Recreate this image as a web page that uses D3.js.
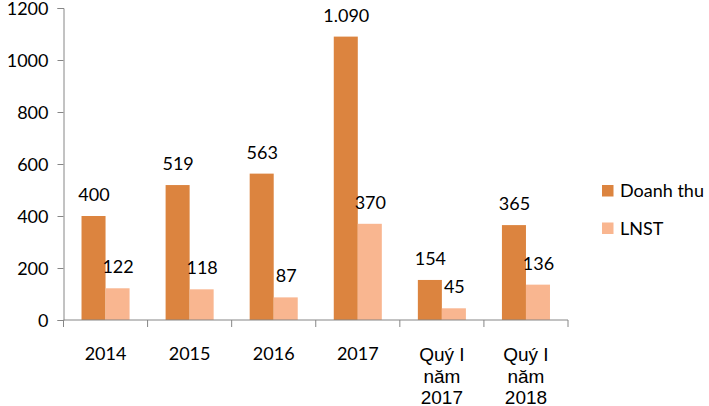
<!DOCTYPE html>
<html>
<head>
<meta charset="utf-8">
<script src="https://cdn.jsdelivr.net/npm/d3@7"></script>
<style>
  html, body { margin: 0; padding: 0; background: #fff; }
  svg { display: block; }
</style>
</head>
<body>
<svg id="chart" width="709" height="406"></svg>
<script>
const categories = ["2014", "2015", "2016", "2017", "Quý I năm 2017", "Quý I năm 2018"];
const seriesNames = ["Doanh thu", "LNST"];
const doanhThu = [400, 519, 563, 1090, 154, 365];
const lnst = [122, 118, 87, 370, 45, 136];
const yTicks = [0, 200, 400, 600, 800, 1000, 1200];
const colors = ["#DC843F", "#F9B690"];

(function () {
const seriesValues = [doanhThu, lnst];
const svg = d3.select("#chart");
const numFont = "Lato, 'DejaVu Sans', sans-serif";
const viFont = "'Liberation Sans', Arial, sans-serif";
const axisColor = "#868686";

const plotL = 63.5, plotR = 568, plotT = 8, plotB = 320;

const x0 = d3.scaleBand().domain(categories).range([plotL, plotR]).paddingInner(0).paddingOuter(0);
const x1 = d3.scaleBand().domain(seriesNames).range([0, x0.bandwidth()]).paddingInner(0).paddingOuter(0.75);
const y = d3.scaleLinear().domain([0, 1200]).range([plotB, plotT]);

const fmt = v => d3.formatLocale({decimal: ",", thousands: ".", grouping: [3], currency: ["", ""]}).format(",")(v);

// bars
const groups = svg.append("g").selectAll("g")
  .data(categories).join("g")
  .attr("transform", d => `translate(${x0(d)},0)`);

groups.each(function(cat, i) {
  const g = d3.select(this);
  seriesNames.forEach((s, k) => {
    const v = seriesValues[k][i];
    g.append("rect")
      .attr("x", x1(s))
      .attr("y", y(v))
      .attr("width", x1.bandwidth())
      .attr("height", y(0) - y(v))
      .attr("fill", colors[k]);
  });
});

// value labels
groups.each(function(cat, i) {
  const g = d3.select(this);
  seriesNames.forEach((s, k) => {
    const v = seriesValues[k][i];
    g.append("text")
      .attr("x", x1(s) + x1.bandwidth() / 2 + 0.5)
      .attr("y", y(v) - 15)
      .attr("text-anchor", "middle")
      .attr("font-family", numFont)
      .attr("font-size", 18)
      .attr("fill", "#000")
      .text(fmt(v));
  });
});

// y axis
const yAxis = svg.append("g")
  .attr("transform", `translate(${plotL},0)`)
  .call(d3.axisLeft(y).tickValues(yTicks).tickSize(6).tickPadding(9).tickFormat(d3.format("d")));
yAxis.select(".domain").attr("stroke", axisColor);
yAxis.selectAll(".tick line").attr("stroke", axisColor);
yAxis.selectAll(".tick text")
  .attr("font-family", numFont).attr("font-size", 18).attr("fill", "#000")
  .attr("dy", "0.36em");

// x axis
const xAxis = svg.append("g")
  .attr("transform", `translate(0,${plotB})`);
xAxis.append("line")
  .attr("x1", plotL).attr("x2", plotR).attr("y1", 0).attr("y2", 0)
  .attr("stroke", axisColor);
const tickPos = categories.map(c => x0(c)).concat([plotR]);
xAxis.selectAll("line.tk").data(tickPos).join("line")
  .attr("class", "tk")
  .attr("x1", d => d).attr("x2", d => d)
  .attr("y1", 0).attr("y2", 7)
  .attr("stroke", axisColor);

categories.forEach(c => {
  const cx = x0(c) + x0.bandwidth() / 2;
  const words = c.split(" ");
  if (words.length > 1) {
    const t = xAxis.append("text")
      .attr("text-anchor", "middle")
      .attr("font-family", viFont).attr("font-size", 19).attr("fill", "#000");
    const lines = [];
    let cur = [];
    const probe = svg.append("text").attr("font-family", viFont).attr("font-size", 19);
    words.forEach(w => {
      const test = cur.concat([w]).join(" ");
      probe.text(test);
      if (cur.length && probe.node().getComputedTextLength() > 55) {
        lines.push(cur.join(" "));
        cur = [w];
      } else cur.push(w);
    });
    if (cur.length) lines.push(cur.join(" "));
    probe.remove();
    lines.forEach((ln, j) => {
      t.append("tspan").attr("x", cx).attr("y", 41 + j * 21.5).text(ln);
    });
  } else {
    xAxis.append("text")
      .attr("x", cx).attr("y", 40)
      .attr("text-anchor", "middle")
      .attr("font-family", numFont).attr("font-size", 18).attr("fill", "#000")
      .text(c);
  }
});

// legend
const legend = svg.append("g");
seriesNames.forEach((s, k) => {
  const ly = 185 + k * 37.5;
  legend.append("rect")
    .attr("x", 602).attr("y", ly)
    .attr("width", 11.5).attr("height", 11.5)
    .attr("fill", colors[k]);
  legend.append("text")
    .attr("x", 620).attr("y", ly + 12)
    .attr("font-family", numFont).attr("font-size", 18).attr("fill", "#000")
    .text(s);
});
})();
</script>
</body>
</html>
